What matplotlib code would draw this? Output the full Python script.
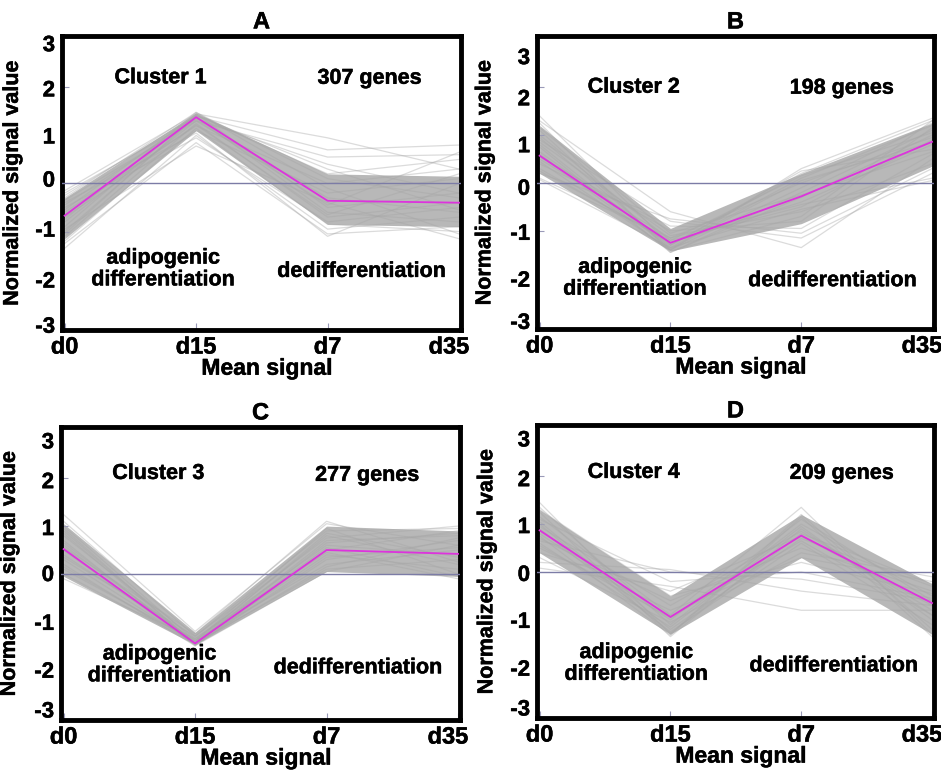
import matplotlib
matplotlib.use('Agg')
import matplotlib.pyplot as plt
import matplotlib.patheffects as pe
from matplotlib.transforms import ScaledTranslation

plt.rcParams['font.family'] = ['Liberation Sans', 'DejaVu Sans']
plt.rcParams['font.weight'] = 'bold'

# ---------------- data ----------------
time_points = ['d0', 'd15', 'd7', 'd35']
panel_letters = ['A', 'B', 'C', 'D']
cluster_names = ['Cluster 1', 'Cluster 2', 'Cluster 3', 'Cluster 4']
gene_counts = ['307 genes', '198 genes', '277 genes', '209 genes']
phase_left = 'adipogenic\ndifferentiation'
phase_right = 'dedifferentiation'
y_tick_values = [3, 2, 1, 0, -1, -2, -3]
x_label = 'Mean signal'
y_label = 'Normalized signal value'

mean_c1 = [-0.67, 1.38, -0.36, -0.40]
mean_c2 = [0.57, -1.25, -0.28, 0.86]
mean_c3 = [0.52, -1.45, 0.50, 0.42]
mean_c4 = [0.87, -0.94, 0.76, -0.65]

core_hi_c1 = [-0.30, 1.47, 0.20, 0.15]
core_lo_c1 = [-1.15, 1.10, -0.85, -0.90]
core_hi_c2 = [1.20, -0.95, 0.20, 1.25]
core_lo_c2 = [0.20, -1.42, -0.85, 0.35]
core_hi_c3 = [1.05, -1.22, 1.00, 0.90]
core_lo_c3 = [-0.05, -1.48, 0.05, -0.05]
core_hi_c4 = [1.30, -0.50, 1.20, -0.25]
core_lo_c4 = [0.40, -1.30, 0.30, -1.30]

genes_c1 = [
    [-0.15, 1.45, 0.95, 0.30], [-0.25, 1.40, 0.70, 0.80], [-0.35, 1.30, 0.55, 0.60],
    [-0.45, 1.35, 0.40, -0.20], [-0.55, 1.42, 0.20, 0.50], [-0.30, 1.48, 0.10, -0.30],
    [-0.60, 1.20, 0.00, 0.30], [-0.70, 1.10, -0.20, 0.10], [-0.80, 1.30, -0.30, -0.60],
    [-0.90, 1.45, -0.50, -0.20], [-1.00, 1.38, -0.60, -0.80], [-1.10, 1.25, -0.70, -0.40],
    [-1.20, 1.15, -0.85, -1.00], [-1.35, 1.00, -0.95, -0.70], [-1.25, 0.85, -1.05, -0.90],
    [-0.95, 0.78, -0.40, -1.15], [-0.50, 0.95, -0.80, -0.50], [-0.40, 1.05, -1.10, 0.00],
    [-0.75, 1.48, -0.10, -1.05], [-0.20, 1.33, -0.45, 0.65], [-1.05, 1.42, 0.30, -0.55],
    [-0.65, 1.22, -0.65, 0.20],
]
genes_c2 = [
    [1.40, -1.30, 0.20, 1.30], [1.25, -1.45, -0.20, 1.10], [1.10, -1.40, 0.30, 1.35],
    [1.00, -1.20, -0.50, 0.90], [0.95, -1.35, 0.10, 1.20], [0.85, -1.10, -0.60, 0.40],
    [0.75, -1.45, -0.30, 1.00], [0.65, -1.30, 0.25, 0.70], [0.55, -1.00, -0.80, 1.15],
    [0.45, -1.40, -0.10, 1.25], [0.40, -0.90, -0.95, 0.60], [0.30, -1.25, -0.40, 0.80],
    [0.20, -0.75, -1.05, 0.30], [0.10, -1.15, 0.00, 0.95], [0.07, -1.35, -0.55, 0.05],
    [1.30, -0.60, -1.35, 0.50], [0.90, -0.80, -1.15, 0.20], [0.60, -1.42, -0.70, 1.30],
    [1.15, -1.05, -0.25, 0.65], [0.25, -1.20, 0.15, 1.05], [0.50, -1.15, -0.45, 0.10],
    [0.80, -1.38, 0.05, 0.85],
]
genes_c3 = [
    [1.24, -1.20, 1.05, 0.60], [1.10, -1.30, 0.90, 0.95], [1.00, -1.40, 0.80, 0.20],
    [0.90, -1.45, 0.70, 0.80], [0.80, -1.35, 0.60, 0.40], [0.70, -1.50, 0.50, 0.90],
    [0.60, -1.42, 0.40, 0.10], [0.50, -1.48, 0.30, 0.70], [0.40, -1.38, 0.20, 0.50],
    [0.30, -1.45, 0.10, 0.30], [0.20, -1.50, 0.05, 0.60], [0.10, -1.40, 0.95, 0.00],
    [0.00, -1.45, 0.65, 0.85], [-0.10, -1.35, 0.45, -0.10], [0.55, -1.25, 1.10, 0.25],
    [0.85, -1.47, 0.15, 0.75], [0.35, -1.30, 0.75, 1.00], [0.65, -1.43, 0.55, -0.05],
    [0.95, -1.48, 0.35, 0.55], [0.15, -1.44, 0.85, 0.35],
]
genes_c4 = [
    [1.45, -1.30, 1.20, -1.20], [1.35, -1.10, 1.00, -0.50], [1.25, -1.35, 0.90, -0.90],
    [1.15, -0.90, 1.35, -1.30], [1.05, -1.20, 0.70, -0.30], [0.95, -0.70, 0.85, -0.80],
    [0.90, -1.25, 0.60, -1.10], [0.80, -1.00, 1.10, -0.60], [0.70, -0.60, 0.50, -0.40],
    [0.60, -1.15, 0.95, -1.00], [0.50, -0.80, 0.30, -0.20], [0.40, -0.40, 0.75, -0.70],
    [0.30, -1.05, 0.40, -0.10], [0.20, 0.05, -0.40, -0.70], [0.08, -0.30, -0.80, -0.80],
    [1.10, -0.20, 0.00, -0.55], [0.75, -1.32, 1.15, -1.35], [1.30, -0.50, 0.20, -0.45],
    [0.55, -0.95, 0.65, -0.90], [1.00, -1.28, 0.80, -0.25], [0.65, 0.00, -0.15, -0.60],
]

means = [mean_c1, mean_c2, mean_c3, mean_c4]
cores = [(core_lo_c1, core_hi_c1), (core_lo_c2, core_hi_c2),
         (core_lo_c3, core_hi_c3), (core_lo_c4, core_hi_c4)]
genes = [genes_c1, genes_c2, genes_c3, genes_c4]

# ---------------- layout ----------------
W, H = 941, 771
fig = plt.figure(figsize=(W / 100, H / 100), dpi=100)

rects = [(62, 36, 461, 330), (537, 36, 934, 329), (61, 427, 460, 720), (537, 425, 934, 718)]
ytick_label_pos = [
    [2.92, 1.98, 1.0, 0.1, -0.94, -2.0, -2.94],
    [2.65, 1.79, 0.81, -0.08, -1.02, -2.0, -2.88],
    [2.79, 1.96, 0.98, 0.02, -1.0, -2.0, -2.83],
    [2.79, 1.96, 0.98, -0.02, -1.0, -2.0, -2.83],
]
text_pos = [
    ((0.73, 2.20), (2.32, 2.19), (0.75, -1.78), (2.26, -1.83)),
    ((0.72, 2.00), (2.31, 1.98), (0.73, -1.99), (2.24, -2.04)),
    ((0.72, 2.10), (2.31, 2.06), (0.73, -1.90), (2.24, -1.96)),
    ((0.72, 2.08), (2.31, 2.06), (0.74, -1.91), (2.25, -1.96)),
]
ylabel_x = [-0.098, -0.105, -0.103, -0.10]

thick = [pe.withStroke(linewidth=0.35, foreground='black')]
x = list(range(len(time_points)))

for i in range(4):
    l, t, r, b = rects[i]
    ax = fig.add_axes([l / W, 1 - b / H, (r - l) / W, (b - t) / H])
    ax.set_xlim(-0.02, 3.015)
    ax.set_ylim(-3.05, 3.07)

    lo, hi = cores[i]
    ax.fill_between(x, lo, hi, color='#acacac', alpha=0.85, lw=0, zorder=1)
    for g in genes[i]:
        ax.plot(x, g, color='#a6a6a6', alpha=0.4, lw=0.9, zorder=2)
    ax.axhline(0, color='#7c7ca6', lw=1.0, zorder=3)
    ax.plot(x, means[i], color='#dd33dd', lw=1.3, zorder=4)

    for s in ax.spines.values():
        s.set_linewidth(3.5)
        s.set_color('black')

    ax.set_xticks(x)
    ax.set_xticklabels(time_points, fontsize=17, fontweight='bold')
    ax.tick_params(axis='x', direction='in', length=5, width=0.8, color='#9a9ab8', pad=4)
    lbls = ax.get_xticklabels()
    lbls[-1].set_transform(lbls[-1].get_transform() + ScaledTranslation(-0.10, 0, fig.dpi_scale_trans))
    for lb in lbls:
        lb.set_path_effects(thick)

    ax.set_yticks(ytick_label_pos[i])
    ax.set_yticklabels([str(v) for v in y_tick_values], fontsize=16, fontweight='bold')
    ax.tick_params(axis='y', which='major', length=0, pad=5)
    ax.set_yticks([2, 1, -1, -2], minor=True)
    ax.tick_params(axis='y', which='minor', direction='in', length=5, width=0.8, color='#9a9ab8')
    for lb in ax.get_yticklabels():
        lb.set_path_effects(thick)

    yl = ax.set_ylabel(y_label, fontsize=15.5, fontweight='bold')
    yl.set_path_effects(thick)
    ax.yaxis.set_label_coords(ylabel_x[i], 0.5)
    ax.text(0.513, -0.13, x_label, transform=ax.transAxes, ha='center', va='center',
            fontsize=16.5, fontweight='bold', path_effects=thick)
    ax.text(0.5, 1.048, panel_letters[i], transform=ax.transAxes, ha='center', va='center',
            fontsize=17, fontweight='bold', path_effects=thick)

    p = text_pos[i]
    kw = dict(ha='center', va='center', fontsize=15.5, fontweight='bold', path_effects=thick)
    ax.text(p[0][0], p[0][1], cluster_names[i], **kw)
    ax.text(p[1][0], p[1][1], gene_counts[i], **kw)
    ax.text(p[2][0], p[2][1], phase_left, linespacing=1.05, **kw)
    ax.text(p[3][0], p[3][1], phase_right, **kw)

fig.savefig('out.png', dpi=100)
